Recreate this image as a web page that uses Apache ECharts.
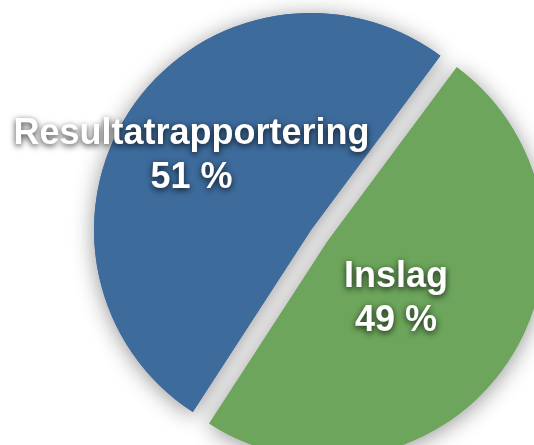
<!DOCTYPE html>
<html>
<head>
<meta charset="utf-8">
<script src="https://cdn.jsdelivr.net/npm/echarts@6/dist/echarts.min.js"></script>
<style>
html,body{margin:0;padding:0;background:#fff;}
#chart{width:534px;height:445px;}
</style>
</head>
<body>
<div id="chart"></div>
<script>
// Data
const categories = ['Resultatrapportering', 'Inslag'];
const values = [51, 49];
const colors = ['#3d6b9c', '#6ca55b'];
const exploded = [false, true];

const chart = echarts.init(document.getElementById('chart'), null, {renderer: 'canvas'});

function makeData(withShadow) {
  return categories.map((name, i) => ({
    name: name,
    value: values[i],
    selected: exploded[i],
    itemStyle: withShadow ? {
      color: colors[i],
      shadowBlur: 22,
      shadowColor: 'rgba(0,0,0,0.42)',
      shadowOffsetY: 3
    } : { color: colors[i] },
    select: { itemStyle: { color: colors[i], borderWidth: 0 } }
  }));
}

const labelOffsets = [[-28, -10], [-23, -6]];

const common = {
  type: 'pie',
  center: [311, 230],
  radius: [0, 217],
  startAngle: 237,
  clockwise: true,
  selectedMode: 'multiple',
  selectedOffset: 20,
  avoidLabelOverlap: false,
  animation: false,
  silent: true,
  emphasis: { disabled: true, scale: false },
  labelLine: { show: false }
};

chart.setOption({
  backgroundColor: '#ffffff',
  series: [
    Object.assign({}, common, {
      z: 1,
      data: makeData(true),
      label: { show: false }
    }),
    Object.assign({}, common, {
      z: 2,
      data: makeData(false),
      label: {
        show: true,
        position: 'inside',
        formatter: p => p.name + '\n' + p.value + ' %',
        color: '#ffffff',
        fontFamily: '"Liberation Sans", Arial, Helvetica, sans-serif',
        fontWeight: 'bold',
        fontSize: 36,
        lineHeight: 44,
        align: 'center',
        textShadowColor: 'rgba(0,0,0,0.8)',
        textShadowBlur: 6,
        textShadowOffsetX: 0,
        textShadowOffsetY: 2
      },
      labelLayout: function (params) {
        const o = labelOffsets[params.dataIndex];
        return { dx: o[0], dy: o[1] };
      }
    })
  ]
});
</script>
</body>
</html>
